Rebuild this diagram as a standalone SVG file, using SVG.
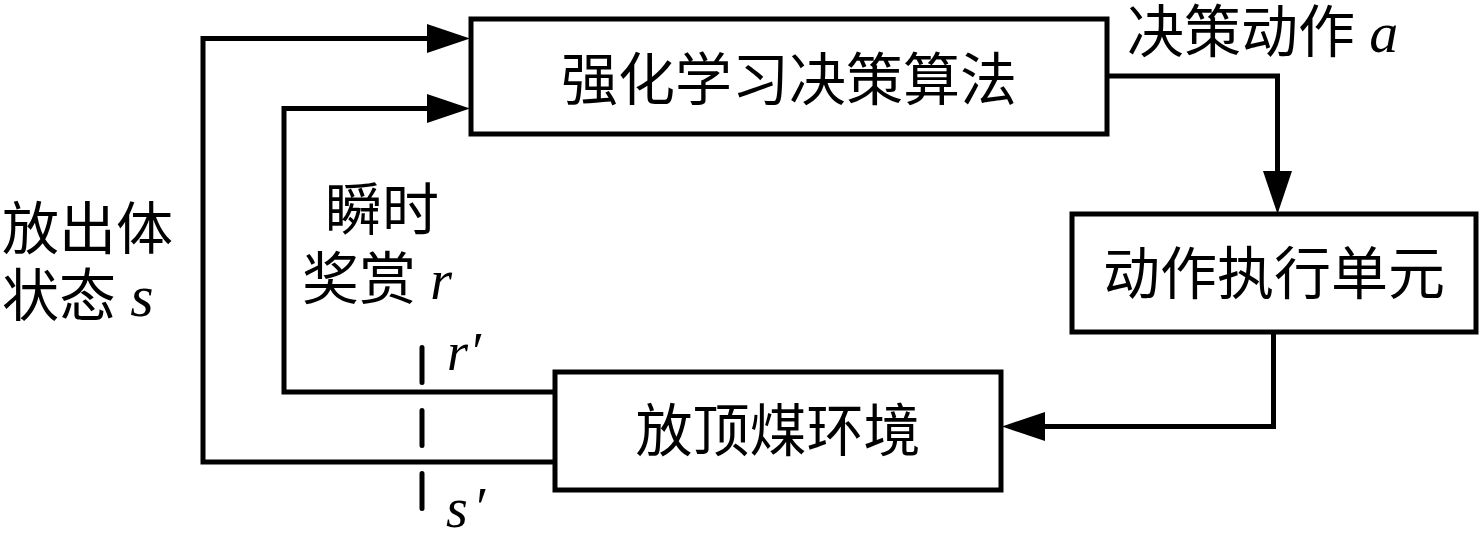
<svg xmlns="http://www.w3.org/2000/svg" width="1480" height="546" viewBox="0 0 1480 546">
<style>
.box{fill:#fff;stroke:#000;stroke-width:5}
.ln{fill:none;stroke:#000;stroke-width:5;stroke-linejoin:miter}
.t{font-family:"Liberation Serif","Noto Sans CJK SC",serif;font-size:57px;fill:#000}
.i{font-family:"Liberation Serif",serif;font-style:italic;fill:#000}
</style>
<defs>
<marker id="ah" markerUnits="userSpaceOnUse" viewBox="0 -15 44 30" refX="0" refY="0" markerWidth="44" markerHeight="30" orient="auto">
<path d="M0,-14.5 L43,0 L0,14.5 z" fill="#000"/>
</marker>
</defs>
<rect width="1480" height="546" fill="#fff"/>
<g id="connectors">
<path class="ln" d="M555,462 H203 V38.5 H427" marker-end="url(#ah)"/>
<path class="ln" d="M555,392 H284 V108.5 H427" marker-end="url(#ah)"/>
<path class="ln" d="M1107,76 H1277.5 V171" marker-end="url(#ah)"/>
<path class="ln" d="M1273.5,332 V426.5 H1045" marker-end="url(#ah)"/>
<line x1="422" y1="347.5" x2="422" y2="508.5" stroke="#000" stroke-width="5" stroke-linecap="round" stroke-dasharray="35 28"/>
</g>
<g id="node-rl">
<rect class="box" x="471" y="19" width="636" height="115"/>
<text class="t" x="789" y="100" text-anchor="middle">强化学习决策算法</text>
</g>
<g id="node-exec">
<rect class="box" x="1072" y="214" width="404" height="118"/>
<text class="t" x="1274" y="294" text-anchor="middle">动作执行单元</text>
</g>
<g id="node-env">
<rect class="box" x="555" y="372" width="446" height="118"/>
<text class="t" x="778" y="451" text-anchor="middle">放顶煤环境</text>
</g>
<g id="labels">
<text class="t" x="1127" y="52">决策动作 <tspan class="i" font-size="58">a</tspan></text>
<text class="t" x="2" y="249">放出体</text>
<text class="t" x="2" y="316">状态 <tspan class="i" font-size="60">s</tspan></text>
<text class="t" x="325" y="230">瞬时</text>
<text class="t" x="302" y="299">奖赏 <tspan class="i" font-size="56">r</tspan></text>
<text class="i" font-size="54" x="447" y="370">r<tspan dx="1">′</tspan></text>
<text class="i" font-size="56" x="446" y="527">s<tspan dx="5">′</tspan></text>
</g>
</svg>
